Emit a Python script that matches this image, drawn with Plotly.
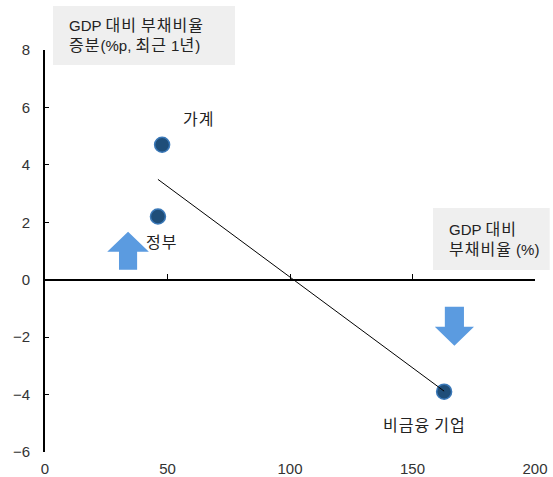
import re
import numpy as np
import plotly.graph_objects as go

# Debt-to-GDP level vs. one-year change, by sector
sectors = ["가계", "정부", "비금융 기업"]
debt_ratio = [47.8, 46.1, 162.9]        # GDP 대비 부채비율 (%)
debt_change = [4.7, 2.2, -3.9]          # 증분 (%p, 최근 1년)

x_ticks = [0, 50, 100, 150, 200]
y_ticks = [-6, -4, -2, 0, 2, 4, 6, 8]

FONT = "Liberation Sans, Arial, Noto Sans CJK KR, sans-serif"
ARROW = "#5B9BE0"
BOX = "#EFEFEF"


def hangul(text):
    """Set Hangul runs slightly larger and looser than the Latin text."""
    return re.sub(r"([가-힣]+)",
                  r'<span style="font-size:16px;letter-spacing:1px">\1</span>', text)


# Linear fit across the observed range
slope, intercept = np.polyfit(debt_ratio, debt_change, 1)
fit_x = np.array([min(debt_ratio), max(debt_ratio)])
fit_y = slope * fit_x + intercept

fig = go.Figure()
fig.add_trace(go.Scatter(
    x=fit_x, y=fit_y, mode="lines", xaxis="x2", yaxis="y",
    line=dict(color="black", width=1), hoverinfo="skip", showlegend=False,
))
fig.add_trace(go.Scatter(
    x=debt_ratio, y=debt_change, mode="markers",
    marker=dict(size=15, color="#1F4E79", line=dict(color="#3A78B8", width=1.5)),
    showlegend=False,
))

# Sector labels (pixel offsets from each marker)
label_offsets = {"가계": (36, -25), "정부": (4, 26), "비금융 기업": (-20, 34)}
for name, xv, yv in zip(sectors, debt_ratio, debt_change):
    dx, dy = label_offsets[name]
    fig.add_annotation(x=xv, y=yv, text=hangul(name), showarrow=False, xshift=dx, yshift=-dy,
                       font=dict(size=15, color="#222", family=FONT))


def arrow_path(cx, y0, y1, head_w, shaft_w, head_len, up=True):
    """Block arrow path (data coords) pointing from y0 toward y1."""
    hw, sw = head_w / 2, shaft_w / 2
    yb = y1 - head_len if up else y1 + head_len
    return (f"M {cx - sw},{y0} L {cx - sw},{yb} L {cx - hw},{yb} L {cx},{y1} "
            f"L {cx + hw},{yb} L {cx + sw},{yb} L {cx + sw},{y0} Z")


fig.add_shape(type="path", xref="x", yref="y",
              path=arrow_path(33.9, 0.35, 1.67, 17, 7.4, 0.7, up=True),
              fillcolor=ARROW, line=dict(width=0))
fig.add_shape(type="path", xref="x", yref="y",
              path=arrow_path(167.1, -0.94, -2.30, 16, 7.8, 0.66, up=False),
              fillcolor=ARROW, line=dict(width=0))

# Axis title boxes
fig.add_shape(type="rect", xref="paper", yref="paper", x0=0.0163, x1=0.3878,
              y0=0.9627, y1=1.1095, fillcolor=BOX, line=dict(width=0), layer="below")
fig.add_annotation(xref="paper", yref="paper", x=0.0449, y=1.0373, xanchor="left",
                   yanchor="middle", text=hangul("GDP 대비 부채비율<br>증분(%p, 최근 1년)"),
                   showarrow=False, align="left",
                   font=dict(size=15, color="#222", family=FONT))
fig.add_shape(type="rect", xref="paper", yref="paper", x0=0.7918, x1=1.03,
              y0=0.4527, y1=0.607, fillcolor=BOX, line=dict(width=0), layer="below")
fig.add_annotation(xref="paper", yref="paper", x=0.8204, y=0.5274, xanchor="left",
                   yanchor="middle", text=hangul("GDP 대비<br>부채비율 (%)"),
                   showarrow=False, align="left",
                   font=dict(size=15, color="#222", family=FONT))

fig.update_layout(
    width=553, height=477,
    margin=dict(l=45, r=18, t=50, b=25),
    paper_bgcolor="white", plot_bgcolor="white",
    font=dict(family=FONT, size=15, color="#333"),
    xaxis=dict(range=[0, 200], tickvals=x_ticks, showgrid=False, zeroline=False,
               showline=False, ticks="", ticklabelstandoff=6, automargin=False,
               fixedrange=True),
    xaxis2=dict(range=[0, 200], matches="x", overlaying="x", anchor="free",
                position=6 / 14, tickvals=x_ticks, showticklabels=False,
                ticks="inside", ticklen=5, tickcolor="black", showgrid=False,
                zeroline=False, showline=True, linecolor="black", linewidth=1.5,
                automargin=False),
    yaxis=dict(range=[-6, 8], tickvals=y_ticks, showgrid=False, zeroline=False,
               showline=True, linecolor="black", linewidth=2, ticks="inside",
               ticklen=4, tickcolor="black", ticklabelstandoff=10,
               tickformat="d", automargin=False),
)

fig.write_html("out.html")
